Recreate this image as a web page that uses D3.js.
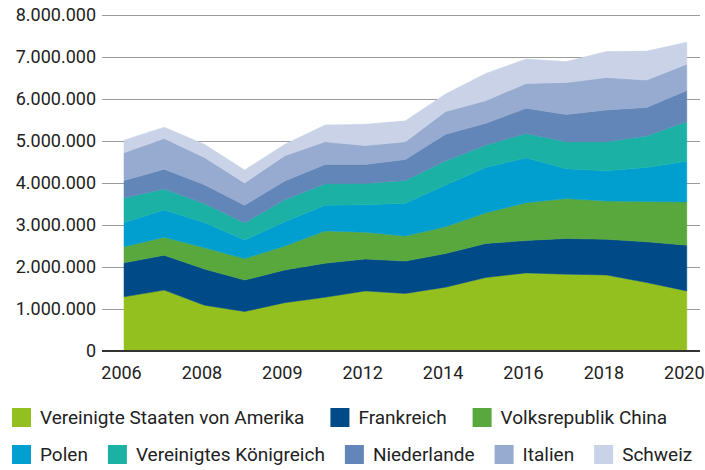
<!DOCTYPE html>
<html>
<head>
<meta charset="utf-8">
<script src="https://cdn.jsdelivr.net/npm/d3@7"></script>
<style>
  body { margin: 0; background: #fff; }
  text { font-family: Roboto, 'Liberation Sans', sans-serif; fill: #222; }
</style>
</head>
<body>
<div id="chart"></div>
<script>

// values, per year
var years = [2006, 2007, 2008, 2009, 2010, 2011, 2012, 2013, 2014, 2015, 2016, 2017, 2018, 2019, 2020];
var usa = [1290000, 1450000, 1090000, 940000, 1150000, 1280000, 1430000, 1370000, 1520000, 1750000, 1860000, 1830000, 1810000, 1630000, 1430000];
var frankreich = [810000, 830000, 860000, 750000, 780000, 810000, 760000, 770000, 800000, 810000, 770000, 850000, 850000, 970000, 1090000];
var china = [380000, 430000, 510000, 510000, 570000, 770000, 640000, 600000, 640000, 730000, 900000, 950000, 910000, 960000, 1030000];
var polen = [580000, 650000, 600000, 440000, 580000, 610000, 650000, 780000, 990000, 1080000, 1070000, 710000, 720000, 810000, 970000];
var uk = [580000, 500000, 450000, 410000, 520000, 510000, 510000, 540000, 580000, 530000, 580000, 640000, 690000, 750000, 940000];
var niederlande = [420000, 470000, 450000, 420000, 450000, 460000, 450000, 500000, 630000, 520000, 600000, 650000, 760000, 680000, 740000];
var italien = [660000, 730000, 650000, 530000, 600000, 540000, 450000, 420000, 540000, 540000, 590000, 760000, 770000, 650000, 630000];
var schweiz = [300000, 270000, 310000, 310000, 270000, 400000, 510000, 500000, 420000, 650000, 580000, 500000, 620000, 690000, 520000];

var seriesNames = ['Vereinigte Staaten von Amerika', 'Frankreich', 'Volksrepublik China', 'Polen',
    'Vereinigtes Königreich', 'Niederlande', 'Italien', 'Schweiz'];
var seriesValues = [usa, frankreich, china, polen, uk, niederlande, italien, schweiz];
var colors = ['#93c01f', '#004a87', '#58a83d', '#009fd0', '#1bb2a5', '#6286b8', '#97aacf', '#c9d2e7'];

var xTicks = [2006, 2008, 2010, 2012, 2014, 2016, 2018, 2020];
var xTickLabels = ['2006', '2008', '2009', '2012', '2014', '2016', '2018', '2020'];
var yTicks = [0, 1000000, 2000000, 3000000, 4000000, 5000000, 6000000, 7000000, 8000000];
var legendRows = [3, 5];
var legendGaps = [26, 20];

var width = 705;
var height = 470;

var svg = d3
    .select('#chart')
    .append('svg')
    .attr('width', width)
    .attr('height', height);

// table for d3.stack
var table = years.map((yr, i) => {
    var row = { year: yr };
    seriesNames.forEach((name, k) => row[name] = seriesValues[k][i]);
    return row;
});

var x = d3.scaleLinear().domain([2006, 2020]).range([124, 686.8]);
var y = d3.scaleLinear().domain([0, 8000000]).range([351, 15]);

var de = d3.formatLocale({ decimal: ',', thousands: '.', grouping: [3], currency: ['', '€'] });
var fmt = de.format(',');

// gridlines
svg.append('g')
    .selectAll('line')
    .data(yTicks.slice(1))
    .enter()
    .append('line')
    .attr('x1', 102)
    .attr('x2', 700)
    .attr('y1', d => Math.round(y(d)) + 0.5)
    .attr('y2', d => Math.round(y(d)) + 0.5)
    .style('stroke', '#9a9a9a')
    .style('stroke-width', 1);

var stack = d3.stack().keys(seriesNames);
var layers = stack(table);

var area = d3.area()
    .x(d => x(d.data.year))
    .y0(d => y(d[0]))
    .y1(d => y(d[1]));

svg.append('g')
    .selectAll('path')
    .data(layers)
    .enter()
    .append('path')
    .attr('d', area)
    .style('fill', (d, i) => colors[i])
    .style('stroke', (d, i) => colors[i])
    .style('stroke-width', 0.5);

// baseline
svg.append('line')
    .attr('x1', 102)
    .attr('x2', 700)
    .attr('y1', y(0))
    .attr('y2', y(0))
    .style('stroke', '#333')
    .style('stroke-width', 2);

// y axis labels
var yAxis = svg.append('g')
    .attr('transform', 'translate(96,0)')
    .call(d3.axisLeft(y).tickValues(yTicks).tickFormat(fmt).tickSize(0).tickPadding(0));
yAxis.select('.domain').remove();
yAxis.selectAll('text')
    .style('font-size', '18px')
    .style('font-family', 'Roboto, sans-serif')
    .style('fill', '#222');

// x axis labels
var xAxis = svg.append('g')
    .attr('transform', 'translate(-3,' + y(0) + ')')
    .call(d3.axisBottom(x).tickValues(xTicks).tickFormat((d, i) => xTickLabels[i]).tickSize(0).tickPadding(15));
xAxis.select('.domain').remove();
xAxis.selectAll('text')
    .style('font-size', '18px')
    .style('font-family', 'Roboto, sans-serif')
    .style('fill', '#222');

// legend, flowed in two rows
var legend = svg.append('g');
var idx = 0;
legendRows.forEach((count, r) => {
    var lx = 12;
    var ly = 408 + r * 37;
    for (var j = 0; j < count; j++, idx++) {
        legend.append('rect')
            .attr('x', lx)
            .attr('y', ly)
            .attr('width', 19)
            .attr('height', 19)
            .style('fill', colors[idx]);
        var t = legend.append('text')
            .attr('x', lx + 28)
            .attr('y', ly + 16)
            .style('font-size', '19px')
            .text(seriesNames[idx]);
        lx += 28 + t.node().getComputedTextLength() + legendGaps[r];
    }
});

</script>
</body>
</html>
